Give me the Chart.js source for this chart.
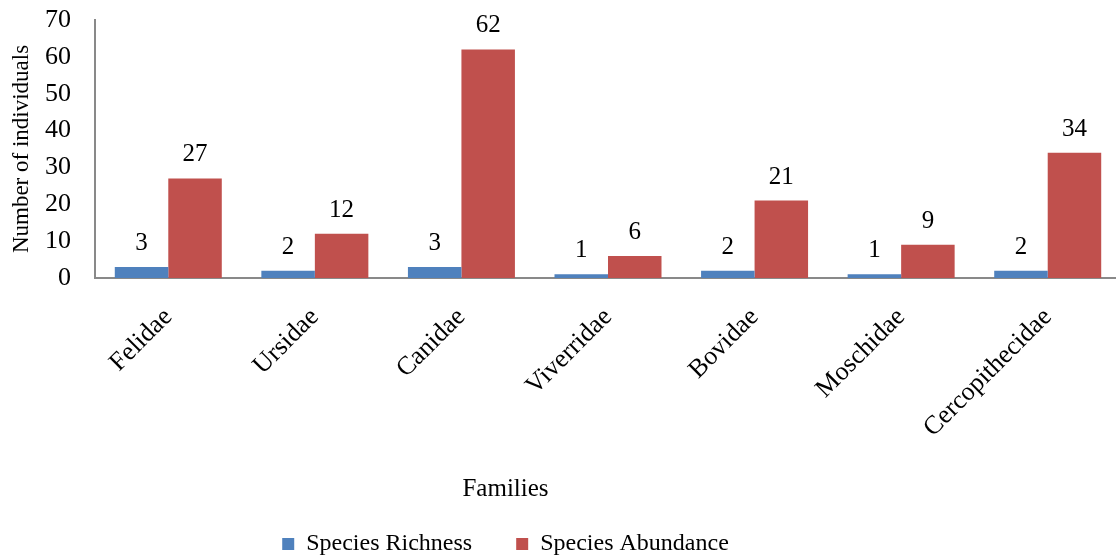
<!DOCTYPE html>
<html>
<head>
<meta charset="utf-8">
<script src="https://cdn.jsdelivr.net/npm/chart.js@4/dist/chart.umd.min.js"></script>
<style>
  html, body { margin: 0; padding: 0; background: #ffffff; overflow: hidden; }
  #wrap { position: absolute; left: 0; top: 0; width: 1121px; height: 559px; }
</style>
</head>
<body>
<div id="wrap"><canvas id="chart" width="1121" height="559"></canvas></div>
<script>
// Families of mammals recorded, with richness (species) and abundance (individuals)
const categories = ['Felidae', 'Ursidae', 'Canidae', 'Viverridae', 'Bovidae', 'Moschidae', 'Cercopithecidae'];
const speciesRichness = [3, 2, 3, 1, 2, 1, 2];
const speciesAbundance = [27, 12, 62, 6, 21, 9, 34];
const seriesNames = ['Species Richness', 'Species Abundance'];
const yMin = 0, yMax = 70, yStep = 10;
const xTitle = 'Families';
const yTitle = 'Number of individuals';

const FONT = "'Liberation Serif', 'DejaVu Serif', serif";
const BLUE = '#4F81BD';
const RED = '#C0504D';
const AXIS = '#898989';

// Writes each bar's value just above it
const valueLabels = {
  id: 'valueLabels',
  afterDatasetsDraw(chart) {
    const ctx = chart.ctx;
    ctx.save();
    ctx.font = '25px ' + FONT;
    ctx.fillStyle = '#000000';
    ctx.textAlign = 'center';
    ctx.textBaseline = 'alphabetic';
    chart.data.datasets.forEach((ds, di) => {
      const meta = chart.getDatasetMeta(di);
      meta.data.forEach((bar, i) => {
        ctx.fillText(String(ds.data[i]), bar.x, bar.y - 17);
      });
    });
    ctx.restore();
  }
};

new Chart(document.getElementById('chart'), {
  type: 'bar',
  data: {
    labels: categories,
    datasets: [
      { label: seriesNames[0], data: speciesRichness, backgroundColor: BLUE, borderWidth: 0,
        categoryPercentage: 0.73, barPercentage: 1.0 },
      { label: seriesNames[1], data: speciesAbundance, backgroundColor: RED, borderWidth: 0,
        categoryPercentage: 0.73, barPercentage: 1.0 }
    ]
  },
  options: {
    responsive: false,
    animation: false,
    layout: { padding: { top: 20, right: 0, bottom: -7, left: -110 } },
    scales: {
      x: {
        grid: { display: false, drawTicks: true, tickLength: 18 },
        border: { display: true, color: AXIS, width: 2 },
        ticks: {
          color: '#000000',
          font: { family: FONT, size: 26 },
          minRotation: 45, maxRotation: 45,
          autoSkip: false,
          padding: 6
        },
        afterFit(scale) { scale.height = 196; }
      },
      y: {
        min: yMin, max: yMax,
        grid: { display: false, drawTicks: true, tickLength: 21 },
        border: { display: true, color: AXIS, width: 2 },
        ticks: {
          stepSize: yStep,
          color: '#000000',
          font: { family: FONT, size: 26 },
          padding: 3
        },
        title: {
          display: true,
          text: yTitle,
          color: '#000000',
          font: { family: FONT, size: 23 },
          padding: { top: 118, bottom: 0 }
        },
        afterFit(scale) { scale.width = 205; }
      }
    },
    plugins: {
      tooltip: { enabled: false },
      title: {
        display: true,
        text: xTitle,
        position: 'bottom',
        weight: 500,
        color: '#000000',
        font: { family: FONT, size: 25, weight: 'normal' },
        padding: { top: 0, bottom: -16 }
      },
      legend: {
        display: true,
        position: 'bottom',
        labels: {
          color: '#000000',
          font: { family: FONT, size: 24 },
          boxWidth: 12,
          boxHeight: 12,
          padding: 44
        }
      }
    }
  },
  plugins: [valueLabels]
});
</script>
</body>
</html>
